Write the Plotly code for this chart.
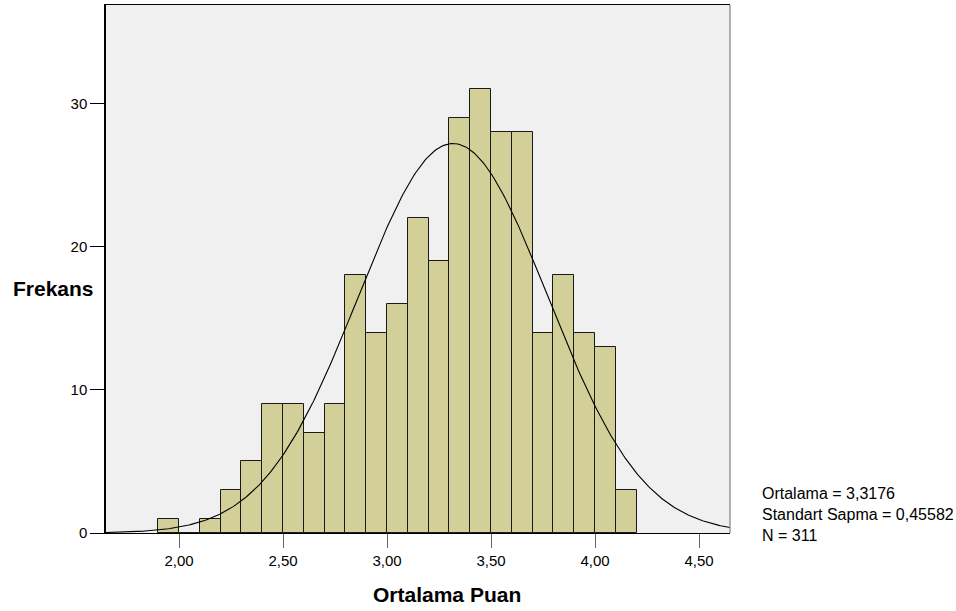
import numpy as np
import plotly.graph_objects as go

# Histogram data (bin left edges and counts)
bin_starts = [1.9, 2.0, 2.1, 2.2, 2.3, 2.4, 2.5, 2.6, 2.7, 2.8, 2.9, 3.0, 3.1, 3.2,
              3.3, 3.4, 3.5, 3.6, 3.7, 3.8, 3.9, 4.0, 4.1]
counts = [1, 0, 1, 3, 5, 9, 9, 7, 9, 18, 14, 16, 22, 19, 29, 31, 28, 28, 14, 18, 14, 13, 3]
BIN_WIDTH = 0.1

# Summary statistics shown in the chart
MEAN = 3.3176
SD = 0.45582
N = 311

x_tickvals = [2.0, 2.5, 3.0, 3.5, 4.0, 4.5]
x_ticktext = ["2,00", "2,50", "3,00", "3,50", "4,00", "4,50"]
y_tickvals = [0, 10, 20, 30]
y_ticktext = ["0", "10", "20", "30"]

X_RANGE = [1.649, 4.649]
Y_RANGE = [0, 36.9]

centers = [b + BIN_WIDTH / 2 for b in bin_starts]

# fitted normal curve from the stated mean / sd / N
xs = np.linspace(X_RANGE[0], X_RANGE[1], 400)
ys = N * BIN_WIDTH / (SD * np.sqrt(2 * np.pi)) * np.exp(-0.5 * ((xs - MEAN) / SD) ** 2)

fig = go.Figure()
fig.add_trace(go.Bar(
    x=centers, y=counts, width=BIN_WIDTH,
    marker=dict(color="#D3CF98", line=dict(color="#1a1a1a", width=1)),
    hoverinfo="x+y",
))
fig.add_trace(go.Scatter(
    x=xs, y=ys, mode="lines",
    line=dict(color="black", width=1.1),
    hoverinfo="skip",
))

font_family = "Liberation Sans, Arial, sans-serif"

fig.update_layout(
    width=956, height=611,
    margin=dict(l=106, r=226, t=5, b=78),
    paper_bgcolor="white",
    plot_bgcolor="#F0F0F0",
    showlegend=False,
    bargap=0,
    font=dict(family=font_family, size=15, color="black"),
    xaxis=dict(
        range=X_RANGE, tickvals=x_tickvals, ticktext=x_ticktext,
        ticks="outside", ticklen=14, tickcolor="#666666", tickwidth=1.2,
        showgrid=False, zeroline=False,
        showline=True, linecolor="black", linewidth=1.2, mirror=True,
        tickfont=dict(size=15, family=font_family),
    ),
    yaxis=dict(
        range=Y_RANGE, tickvals=y_tickvals, ticktext=y_ticktext,
        ticks="outside", ticklen=14, tickcolor="black", tickwidth=1.2,
        showgrid=False, zeroline=False,
        showline=True, linecolor="black", linewidth=1.5, mirror=False,
        tickfont=dict(size=15, family=font_family),
    ),
    shapes=[
        dict(type="line", xref="paper", yref="paper", x0=1, x1=1, y0=0, y1=1,
             line=dict(color="#808080", width=1.2)),
    ],
    annotations=[
        dict(text="<b>Frekans</b>", xref="paper", yref="paper",
             x=-0.1527, y=0.464, xanchor="left", yanchor="middle",
             showarrow=False, font=dict(size=21, family=font_family)),
        dict(text="<b>Ortalama Puan</b>", xref="paper", yref="paper",
             x=0.547, y=-0.1174, xanchor="center", yanchor="middle",
             showarrow=False, font=dict(size=21, family=font_family)),
        dict(text="Ortalama = 3,3176<br>Standart Sapma = 0,45582<br>N = 311",
             xref="paper", yref="paper", x=1.048, y=0.0955,
             xanchor="left", yanchor="top", align="left",
             showarrow=False, font=dict(size=16, family=font_family)),
    ],
)

fig.write_html("out.html", config={"displayModeBar": False},
               post_script="document.body.style.margin='0';")
